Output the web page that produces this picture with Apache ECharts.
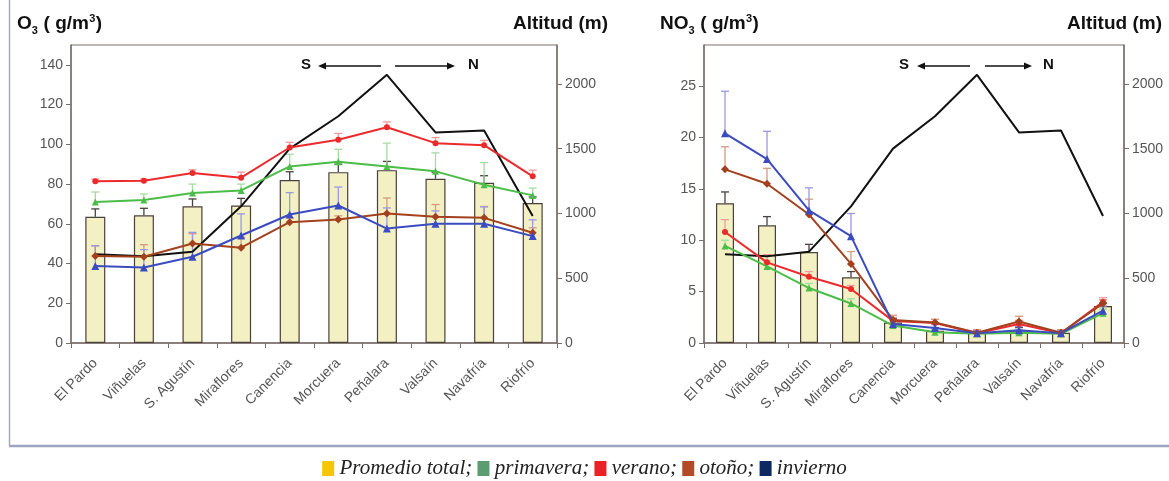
<!DOCTYPE html>
<html><head><meta charset="utf-8">
<script src="https://cdn.jsdelivr.net/npm/echarts@6/dist/echarts.min.js"></script>
<style>html,body{margin:0;padding:0;background:#fff;}#c{width:1169px;height:481px;}</style>
</head><body><div id="c"></div>
<script>
const categories = ['El Pardo','Viñuelas','S. Agustín','Miraflores','Canencia','Morcuera','Peñalara','Valsaín','Navafría','Riofrío'];
const altitude = [685, 670, 705, 1055, 1500, 1750, 2070, 1625, 1640, 980];
const altTicks = [0, 500, 1000, 1500, 2000];

// O3 panel
const o3Ticks = [0, 20, 40, 60, 80, 100, 120, 140];
const o3Total = [63.5, 64.3, 68.8, 69.2, 82, 86, 87, 82.7, 80.7, 70.5];
const o3TotalUp = [67.5, 67.8, 72.5, 72.8, 86.2, 90, 91.4, 86, 84.2, 73.5];
const o3Primavera = [71, 72, 75.5, 76.8, 88.9, 91.2, 88.9, 86.4, 79.7, 74.3];
const o3PrimaveraUp = [76, 75, 80, 80, 95, 97.5, 100.6, 95.7, 90.8, 78];
const o3Verano = [81.4, 81.7, 85.6, 83.2, 98.4, 102.3, 108.6, 100.6, 99.6, 83.9];
const o3VeranoUp = [82.5, 82.5, 87.2, 86, 101, 105.5, 111.3, 103.4, 102, 87];
const o3Otono = [43.8, 43.4, 50.1, 48, 60.8, 62.2, 65.2, 63.5, 63, 55.5];
const o3OtonoUp = [49, 49.5, 55, 53, 63, 64, 73, 69.7, 68.7, 58];
const o3Invierno = [38.8, 38, 43.4, 54.1, 64.7, 69.2, 57.6, 60, 60, 53.8];
const o3InviernoUp = [48.9, 47, 55.7, 65, 75.7, 78.5, 68, 66.5, 68.5, 62];

// NO3 panel
const no3Ticks = [0, 5, 10, 15, 20, 25];
const no3Total = [13.6, 11.45, 8.85, 6.4, 2.0, 1.2, 1.0, 1.2, 1.0, 3.6];
const no3TotalUp = [14.7, 12.3, 9.6, 6.95, 2.4, 1.5, 1.2, 1.5, 1.2, 3.9];
const no3Primavera = [9.45, 7.45, 5.35, 3.85, 1.7, 1.05, 0.9, 1.0, 0.9, 2.9];
const no3PrimaveraUp = [10.0, 7.9, 5.8, 4.3, 2.0, 1.3, 1.1, 1.3, 1.1, 3.3];
const no3Verano = [10.8, 7.85, 6.45, 5.25, 2.15, 1.95, 0.95, 1.85, 0.95, 4.0];
const no3VeranoUp = [12.0, 8.6, 6.95, 5.6, 2.5, 2.3, 1.2, 2.2, 1.2, 4.4];
const no3Otono = [16.9, 15.5, 12.5, 7.7, 2.25, 2.0, 1.0, 2.1, 1.0, 3.85];
const no3OtonoUp = [19.1, 17.0, 14.0, 8.9, 2.7, 2.3, 1.3, 2.6, 1.3, 4.2];
const no3Invierno = [20.4, 17.9, 12.9, 10.4, 1.85, 1.45, 0.95, 1.25, 0.95, 3.15];
const no3InviernoUp = [24.5, 20.6, 15.1, 12.6, 2.3, 1.8, 1.2, 1.6, 1.2, 3.6];

const C = {
  red: '#ec2a2c', green: '#4cbd48', blue: '#3b4cc0', brown: '#a3411f', black: '#111111',
  redE: '#f39a9a', greenE: '#a5dca0', blueE: '#9a98e4', brownE: '#d69a7c', barE: '#4a403c',
  bar: '#f3f1c4', barB: '#4a403c', axis: '#7a6e6a', txt: '#555'
};
const SANS = 'Liberation Sans, Arial, sans-serif';

const chart = echarts.init(document.getElementById('c'), null, {renderer: 'canvas'});

function errSeries(name, vals, ups, color, xi, yi, z) {
  return {
    type: 'custom', name: name, xAxisIndex: xi, yAxisIndex: yi, z: z, silent: true,
    data: vals.map((v, i) => [i, v, ups[i]]),
    renderItem: function (params, api) {
      const p0 = api.coord([api.value(0), api.value(1)]);
      const p1 = api.coord([api.value(0), api.value(2)]);
      const w = 4;
      return {type: 'group', children: [
        {type: 'line', shape: {x1: p0[0], y1: p0[1], x2: p1[0], y2: p1[1]}, style: {stroke: color, lineWidth: 1.3}},
        {type: 'line', shape: {x1: p1[0] - w, y1: p1[1], x2: p1[0] + w, y2: p1[1]}, style: {stroke: color, lineWidth: 1.3}}
      ]};
    }
  };
}
function lineSeries(name, vals, color, symbol, size, xi, yi) {
  return {type: 'line', name: name, data: vals, xAxisIndex: xi, yAxisIndex: yi, z: 5,
    symbol: symbol, symbolSize: size, itemStyle: {color: color}, lineStyle: {color: color, width: 2}};
}
function barSeries(vals, xi, yi, bw) {
  return {type: 'bar', name: 'Promedio total', data: vals, xAxisIndex: xi, yAxisIndex: yi, barWidth: bw, z: 2,
    itemStyle: {color: C.bar, borderColor: C.barB, borderWidth: 1.2}};
}
function altSeries(xi, yi) {
  return {type: 'line', name: 'Altitud', data: altitude, xAxisIndex: xi, yAxisIndex: yi, symbol: 'none', z: 4,
    lineStyle: {color: C.black, width: 2}};
}
const axisLineStyle = {show: true, lineStyle: {color: C.axis, width: 1.5}};
function xAxis(gi) {
  return {type: 'category', gridIndex: gi, data: categories, boundaryGap: true,
    axisLine: axisLineStyle, axisTick: {show: true, length: 5, lineStyle: {color: C.axis}},
    axisLabel: {rotate: 45, margin: 18, interval: 0, fontSize: 14, color: C.txt, fontFamily: SANS},
    splitLine: {show: false}};
}
function yAxis(gi, max, ticks, pos) {
  return {type: 'value', gridIndex: gi, min: 0, max: max, position: pos,
    interval: ticks[1] - ticks[0],
    axisLine: axisLineStyle,
    axisTick: {show: true, length: 5, customValues: ticks, lineStyle: {color: C.axis}},
    axisLabel: {customValues: ticks, margin: 8, color: C.txt, fontSize: 14, fontFamily: SANS,
      formatter: function (v) { return String(v); }},
    splitLine: {show: false}};
}

function titleTexts(x, main) {
  const f = SANS;
  const mw = main === 'O' ? 14.8 : 28.5;
  const gx = x + mw + 6.5;
  return [
    {type: 'text', left: x, top: 14, style: {text: main, font: 'bold 19px ' + f, fill: '#111'}},
    {type: 'text', left: x + mw, top: 25, style: {text: '3', font: 'bold 11px ' + f, fill: '#111'}},
    {type: 'text', left: gx, top: 14, style: {text: ' ( g/m', font: 'bold 19px ' + f, fill: '#111'}},
    {type: 'text', left: gx + 51, top: 13, style: {text: '3', font: 'bold 11px ' + f, fill: '#111'}},
    {type: 'text', left: gx + 57.5, top: 14, style: {text: ')', font: 'bold 19px ' + f, fill: '#111'}}
  ];
}
function arrowGroup(sx, l1, l2, r1, r2, nx, y) {
  const f = 'bold 15px ' + SANS;
  return [
    {type: 'text', left: sx, top: y - 9, style: {text: 'S', font: f, fill: '#111'}},
    {type: 'line', shape: {x1: l1 + 6, y1: y, x2: l2, y2: y}, style: {stroke: '#111', lineWidth: 1.5}},
    {type: 'polygon', shape: {points: [[l1, y], [l1 + 8, y - 3.5], [l1 + 8, y + 3.5]]}, style: {fill: '#111'}},
    {type: 'line', shape: {x1: r1, y1: y, x2: r2 - 6, y2: y}, style: {stroke: '#111', lineWidth: 1.5}},
    {type: 'polygon', shape: {points: [[r2, y], [r2 - 8, y - 3.5], [r2 - 8, y + 3.5]]}, style: {fill: '#111'}},
    {type: 'text', left: nx, top: y - 9, style: {text: 'N', font: f, fill: '#111'}}
  ];
}

const legendFont = 'italic 21px Liberation Serif, Times New Roman, serif';
const sq = (c) => ({backgroundColor: c, width: 12, height: 15});
const option = {
  animation: false,
  backgroundColor: '#fff',
  grid: [
    {left: 71, right: 612, top: 45, bottom: 138, show: true, borderColor: C.axis, borderWidth: 1, backgroundColor: 'transparent'},
    {left: 704, right: 45, top: 45, bottom: 138, show: true, borderColor: C.axis, borderWidth: 1, backgroundColor: 'transparent'}
  ],
  xAxis: [xAxis(0), xAxis(1)],
  yAxis: [
    yAxis(0, 150, o3Ticks, 'left'),
    yAxis(0, 2300, altTicks, 'right'),
    yAxis(1, 29, no3Ticks, 'left'),
    yAxis(1, 2300, altTicks, 'right')
  ],
  series: [
    barSeries(o3Total, 0, 0, 20),
    errSeries('e0', o3Total, o3TotalUp, C.barE, 0, 0, 3),
    altSeries(0, 1),
    errSeries('e1', o3Primavera, o3PrimaveraUp, C.greenE, 0, 0, 4),
    errSeries('e2', o3Verano, o3VeranoUp, C.redE, 0, 0, 4),
    errSeries('e3', o3Otono, o3OtonoUp, C.brownE, 0, 0, 4),
    errSeries('e4', o3Invierno, o3InviernoUp, C.blueE, 0, 0, 4),
    lineSeries('primavera', o3Primavera, C.green, 'triangle', 7, 0, 0),
    lineSeries('verano', o3Verano, C.red, 'circle', 6, 0, 0),
    lineSeries('otoño', o3Otono, C.brown, 'diamond', 8, 0, 0),
    lineSeries('invierno', o3Invierno, C.blue, 'triangle', 8, 0, 0),

    barSeries(no3Total, 1, 2, 18),
    errSeries('f0', no3Total, no3TotalUp, C.barE, 1, 2, 3),
    altSeries(1, 3),
    errSeries('f1', no3Primavera, no3PrimaveraUp, C.greenE, 1, 2, 4),
    errSeries('f2', no3Verano, no3VeranoUp, C.redE, 1, 2, 4),
    errSeries('f3', no3Otono, no3OtonoUp, C.brownE, 1, 2, 4),
    errSeries('f4', no3Invierno, no3InviernoUp, C.blueE, 1, 2, 4),
    lineSeries('primavera', no3Primavera, C.green, 'triangle', 7, 1, 2),
    lineSeries('verano', no3Verano, C.red, 'circle', 6, 1, 2),
    lineSeries('otoño', no3Otono, C.brown, 'diamond', 8, 1, 2),
    lineSeries('invierno', no3Invierno, C.blue, 'triangle', 8, 1, 2)
  ],
  graphic: [].concat(
    [
      {type: 'line', shape: {x1: 9.5, y1: 0, x2: 9.5, y2: 446}, style: {stroke: '#a4a9c6', lineWidth: 1.5}},
      {type: 'line', shape: {x1: 9, y1: 446, x2: 1169, y2: 446}, style: {stroke: '#9ea3c0', lineWidth: 2.5}},
      {type: 'text', left: 513, top: 14, style: {text: 'Altitud (m)', font: 'bold 19px ' + SANS, fill: '#111'}},
      {type: 'text', left: 1067, top: 14, style: {text: 'Altitud (m)', font: 'bold 19px ' + SANS, fill: '#111'}}
    ],
    titleTexts(17, 'O'),
    titleTexts(660, 'NO'),
    arrowGroup(301, 318, 381, 395, 455, 468, 66),
    arrowGroup(899, 917, 970, 985, 1032, 1043, 66),
    [{
      type: 'text', left: 'center', top: 458,
      style: {
        text: '{sy|}{t| Promedio total; }{sg|}{t| primavera; }{sr|}{t| verano; }{sb|}{t| otoño; }{sn|}{t| invierno}',
        rich: {
          t: {font: legendFont, fill: '#222'},
          sy: sq('#f7c600'), sg: sq('#5b9c70'), sr: sq('#ea2228'), sb: sq('#b24a2a'), sn: sq('#0d2a60')
        }
      }
    }]
  )
};
chart.setOption(option);
</script>
</body></html>
